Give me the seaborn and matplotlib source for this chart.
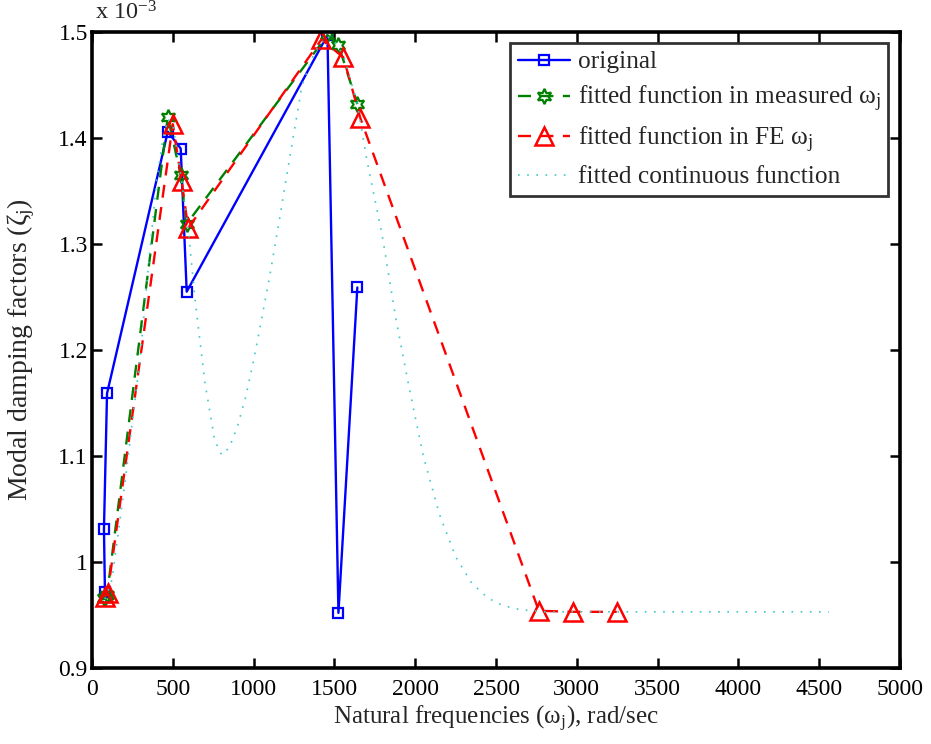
import numpy as np
import pandas as pd
import matplotlib
matplotlib.use("Agg")
import matplotlib.pyplot as plt
import seaborn as sns

# ---------------- data (damping values in units of 1e-3) ----------------
orig_w = [80, 74, 93, 469, 549, 586, 1457, 1525, 1642]
orig_z = [0.972, 1.031, 1.159, 1.406, 1.390, 1.255, 1.497, 0.952, 1.259]

meas_w = [80, 74, 93, 469, 549, 586, 1457, 1525, 1642]
meas_z = [0.966, 0.966, 0.969, 1.420, 1.365, 1.319, 1.497, 1.488, 1.432]

fe_w = [82, 97, 500, 555, 595, 1420, 1556, 1660, 2765, 2975, 3247]
fe_z = [0.967, 0.971, 1.413, 1.359, 1.315, 1.493, 1.476, 1.419, 0.954, 0.953, 0.953]

cont_w = [80, 123, 200, 296, 350, 400, 440, 470, 500, 549, 595, 636, 698, 759,
          802, 850, 900, 950, 1000, 1037, 1100, 1160, 1200, 1253, 1300, 1377,
          1450, 1500, 1560, 1642, 1700, 1796, 1880, 1963, 2050, 2150, 2250,
          2350, 2450, 2540, 2650, 2800, 4560]
cont_z = [0.965, 0.983, 1.07, 1.19, 1.28, 1.36, 1.40, 1.418, 1.413, 1.365,
          1.315, 1.25, 1.17, 1.115, 1.101, 1.108, 1.128, 1.155, 1.19, 1.219,
          1.27, 1.323, 1.36, 1.408, 1.45, 1.481, 1.496, 1.492, 1.476, 1.432,
          1.38, 1.308, 1.23, 1.164, 1.10, 1.045, 1.005, 0.98, 0.966, 0.959,
          0.955, 0.953, 0.953]

labels = ["original",
          r"fitted function in measured $\omega_\mathrm{j}$",
          r"fitted function in FE $\omega_\mathrm{j}$",
          "fitted continuous function"]

xticks = [0, 500, 1000, 1500, 2000, 2500, 3000, 3500, 4000, 4500, 5000]
yticks = [0.9, 1.0, 1.1, 1.2, 1.3, 1.4, 1.5]
ytick_labels = ["0.9", "1", "1.1", "1.2", "1.3", "1.4", "1.5"]

# ---------------- style ----------------
sns.set_theme(style="ticks")
plt.rcParams["font.family"] = ["Liberation Serif", "DejaVu Serif"]
plt.rcParams["mathtext.fontset"] = "custom"
plt.rcParams["mathtext.rm"] = "Liberation Serif"
plt.rcParams["mathtext.it"] = "Liberation Serif:italic"
plt.rcParams["mathtext.default"] = "rm"

fig = plt.figure(figsize=(9.31, 7.44), dpi=100)
ax = fig.add_axes([92 / 931, 1 - 668 / 744, (900 - 92) / 931, (668 - 32) / 744])

BLUE = "#0000ff"
GREEN = "#008000"
RED = "#ff0000"
CYAN = "#40c8c8"

sns.lineplot(x=orig_w, y=orig_z, sort=False, estimator=None, ax=ax,
             color=BLUE, linewidth=1.7, marker="s", markersize=7,
             markerfacecolor="none", markeredgecolor=BLUE, markeredgewidth=1.6,
             label=labels[0])
sns.lineplot(x=meas_w, y=meas_z, sort=False, estimator=None, ax=ax,
             color=GREEN, linewidth=1.7, linestyle=(0, (5.5, 4)), marker=(6, 1, 0),
             markersize=11, markerfacecolor="none", markeredgecolor=GREEN,
             markeredgewidth=1.6, label=labels[1])
sns.lineplot(x=fe_w, y=fe_z, sort=False, estimator=None, ax=ax,
             color=RED, linewidth=1.7, linestyle=(0, (5.5, 4)), marker="^",
             markersize=13, markerfacecolor="none", markeredgecolor=RED,
             markeredgewidth=1.8, label=labels[2])
sns.lineplot(x=cont_w, y=cont_z, sort=False, estimator=None, ax=ax,
             color=CYAN, linewidth=1.2, linestyle=(0, (1, 4.5)), label=labels[3])

ax.set_xlim(0, 5000)
ax.set_ylim(0.9, 1.5)
ax.set_xticks(xticks)
ax.set_xticklabels([str(t) for t in xticks])
ax.set_yticks(yticks)
ax.set_yticklabels(ytick_labels)
ax.tick_params(direction="in", length=7, width=1.8, top=True, right=True,
               labelsize=17, colors="black")
ax.tick_params(axis="x", pad=8)
ax.tick_params(axis="y", pad=3)
for s in ax.spines.values():
    s.set_visible(True)
    s.set_linewidth(2.6)
    s.set_color("black")

ax.set_xlabel(r"Natural frequencies ($\omega_\mathrm{j}$), rad/sec", fontsize=18, labelpad=3)
ax.set_ylabel(r"Modal damping factors ($\zeta_\mathrm{j}$)", fontsize=20)
ax.yaxis.set_label_coords(-0.068, 0.5)
fig.text(95 / 931, 1 - 1 / 744, r"x 10$^{-3}$", fontsize=17.5, va="top", ha="left")

handles, labs = ax.get_legend_handles_labels()
order = [labs.index(l) for l in labels]
leg = ax.legend([handles[i] for i in order], [labs[i] for i in order],
                loc="upper right", bbox_to_anchor=(888 / 931, 1 - 43 / 744),
                bbox_transform=fig.transFigure, fontsize=18.3, frameon=True,
                fancybox=False, edgecolor="black", handlelength=2.08,
                handletextpad=0.28, borderpad=0.3, labelspacing=0.42,
                borderaxespad=0)
leg.get_frame().set_linewidth(2.0)

fig.savefig("out.png", dpi=100)
